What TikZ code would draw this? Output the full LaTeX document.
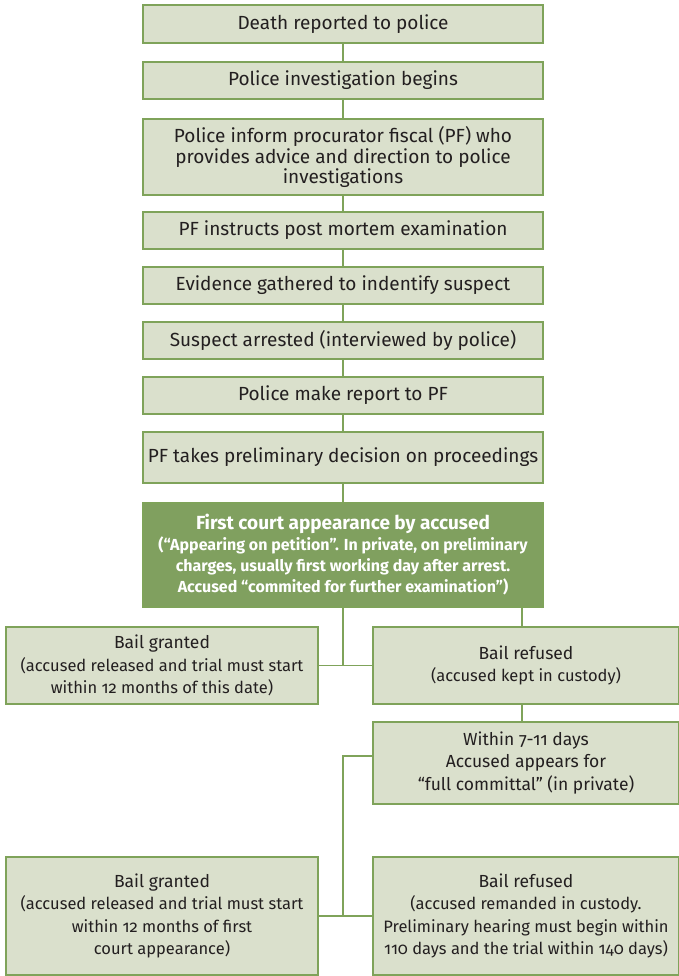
\documentclass[tikz,border=0pt]{standalone}
\usepackage{fontspec}
\setmainfont{Fira Sans}[Numbers=OldStyle]
\definecolor{boxfill}{HTML}{DAE0CC}
\definecolor{boxline}{HTML}{7FA35A}
\definecolor{courtfill}{HTML}{80A05F}
\definecolor{ink}{HTML}{231F20}
\newcommand\notefont{\fontsize{16.5}{22.5}\selectfont}
\newcommand\subfont{\fontsize{16}{21}\selectfont}

\begin{document}
\begin{tikzpicture}[x=1pt, y=-1pt,
    every node/.style={inner sep=0pt, text=ink},
    stage/.style={draw=boxline, fill=boxfill, line width=1.4pt, align=center,
      minimum width=400pt, font=\fontsize{19}{20.5}\selectfont},
    court/.style={stage, fill=courtfill, text=white,
      font=\bfseries\fontsize{19}{21}\selectfont},
    side/.style={stage, minimum width=306pt, font=\fontsize{17.5}{22.5}\selectfont},
    link/.style={draw=boxline, line width=1.4pt}]
  \useasboundingbox (0,0) rectangle (678,976);

  % Police stages down the middle column
  \foreach \txt/\yc/\hgt [count=\n] in {
    Death reported to police/24/38,
    Police investigation begins/80.5/37,
    {Police inform procurator fiscal (PF) who\\provides advice and direction to police\\investigations}/157/76,
    PF instructs post mortem examination/230.5/37,
    Evidence gathered to indentify suspect/285.5/37,
    Suspect arrested (interviewed by police)/340.5/37,
    Police make report to PF/395.5/37,
    PF takes preliminary decision on proceedings/457.5/51
  } {
    \node[stage, minimum height=\hgt] (s\n) at (343,\yc) {\txt};
  }

  % First appearance
  \node[court, minimum height=104] (court) at (343,555)
    {First court appearance by accused\\
     \subfont(“Appearing on petition”. In private, on preliminary\\
     \subfont charges, usually first working day after arrest.\\
     \subfont Accused “commited for further examination”)};

  % Outcomes
  \node[side, minimum width=312, minimum height=77] (granted) at (162,665.5)
    {Bail granted\\
     \notefont(accused released and trial must start\\
     \notefont within 12 months of this date)};
  \node[side, minimum height=77] (refused) at (526,665.5)
    {Bail refused\\
     \notefont(accused kept in custody)};
  \node[side, minimum height=82] (committal) at (526,763)
    {Within 7-11 days\\
     Accused appears for\\
     “full committal” (in private)};
  \node[side, minimum width=312, minimum height=118] (granted2) at (162,916)
    {Bail granted\\
     \notefont(accused released and trial must start\\
     \notefont within 12 months of first\\
     \notefont court appearance)};
  \node[side, minimum height=118] (refused2) at (526,916)
    {Bail refused\\
     \notefont(accused remanded in custody.\\
     \notefont Preliminary hearing must begin within\\
     \notefont 110 days and the trial within 140 days)};

  % Connectors
  \foreach \n [evaluate=\n as \m using int(\n+1)] in {1,...,7} {
    \draw[link] (s\n.south) -- (s\m.north);
  }
  \draw[link] (s8.south) -- (court.north);
  \draw[link] (court.south) -- (court.south |- granted.east);
  \draw[link] (granted.east) -- (refused.west);
  \draw[link] ([xshift=-4]refused.north |- court.south) -- ([xshift=-4]refused.north);
  \draw[link] ([xshift=-4]refused.south) -- ([xshift=-4]committal.north);
  \draw[link] ([yshift=7]committal.west) -| (court.south |- granted2.east);
  \draw[link] (granted2.east) -- (refused2.west);
\end{tikzpicture}
\end{document}
